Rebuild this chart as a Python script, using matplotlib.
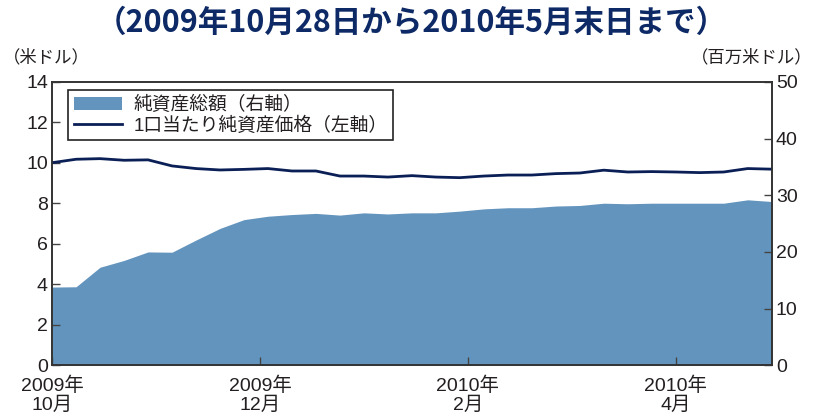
import numpy as np
import matplotlib
matplotlib.use("Agg")
import matplotlib.pyplot as plt
from matplotlib.patches import Patch
from matplotlib.lines import Line2D

plt.rcParams['font.family'] = ['Liberation Sans', 'Noto Sans CJK JP', 'DejaVu Sans']

# weekly data, 2009/10/28 - 2010/5 end
nav_total = [13.8, 13.85, 17.3, 18.5, 20.0, 19.95, 22.1, 24.15, 25.7, 26.3,
             26.6, 26.8, 26.5, 26.9, 26.7, 26.9, 26.9, 27.2, 27.6, 27.8,
             27.8, 28.1, 28.2, 28.6, 28.5, 28.6, 28.6, 28.6, 28.6, 29.2, 28.9]
nav_unit = [10.01, 10.18, 10.21, 10.13, 10.15, 9.85, 9.72, 9.65, 9.68, 9.72,
            9.60, 9.60, 9.35, 9.35, 9.30, 9.37, 9.30, 9.27, 9.35, 9.40,
            9.40, 9.47, 9.50, 9.64, 9.55, 9.57, 9.55, 9.52, 9.55, 9.72, 9.69]
tick_pos = [0, 8.67, 17.33, 26.0]
tick_labels = ["2009年\n10月", "2009年\n12月", "2010年\n2月", "2010年\n4月"]

fill_color = '#6394bd'
bg_color = '#d3ddeb'
line_color = '#0b1f57'
text_color = '#231f20'

x = np.arange(len(nav_total))

fig = plt.figure(figsize=(8.14, 4.16), dpi=100)
ax = fig.add_axes([0.064, 0.122, 0.884, 0.681])
ax2 = ax.twinx()

ax2.fill_between(x, 0, nav_total, color=fill_color, linewidth=0)
ax2.set_ylim(0, 50)
ax2.set_yticks(range(0, 51, 10))
ax2.patch.set_facecolor(bg_color)

ax.plot(x, nav_unit, color=line_color, lw=2)
ax.set_zorder(ax2.get_zorder() + 1)
ax.patch.set_visible(False)
ax.set_ylim(0, 14)
ax.set_yticks(range(0, 15, 2))
ax.set_xlim(0, len(x) - 1)
ax.set_xticks(tick_pos)
ax.set_xticklabels(tick_labels, linespacing=1.05)

for a in (ax, ax2):
    a.tick_params(direction='in', length=6, width=1, color='#444444',
                  labelsize=14, labelcolor=text_color, pad=3)
    for s in a.spines.values():
        s.set_color('#333333')
        s.set_linewidth(1.2)
ax.tick_params(axis='x', pad=8.5)

handles = [Patch(facecolor=fill_color, edgecolor='none'),
           Line2D([], [], color=line_color, lw=2)]
leg = ax.legend(handles, ['純資産総額（右軸）', '1口当たり純資産価格（左軸）'],
                loc='upper left', bbox_to_anchor=(0.022, 0.972), fontsize=13.5,
                frameon=True, fancybox=False, edgecolor='#222222',
                framealpha=1, borderpad=0.3, labelspacing=0.15,
                handlelength=2.6, handletextpad=0.6, borderaxespad=0)
leg.get_frame().set_linewidth(1.2)
for t in leg.get_texts():
    t.set_color(text_color)

fig.text(0.505, 0.945, '（2009年10月28日から2010年5月末日まで）',
         ha='center', va='center', fontsize=22, fontweight='bold',
         color='#0d2a66', family=['Noto Sans CJK JP'])
fig.text(0.003, 0.862, '（米ドル）', ha='left', va='center', fontsize=12.5,
         color=text_color, family=['Noto Sans CJK JP'])
fig.text(0.998, 0.862, '（百万米ドル）', ha='right', va='center', fontsize=12.5,
         color=text_color, family=['Noto Sans CJK JP'])

fig.savefig('out.png', dpi=100)
